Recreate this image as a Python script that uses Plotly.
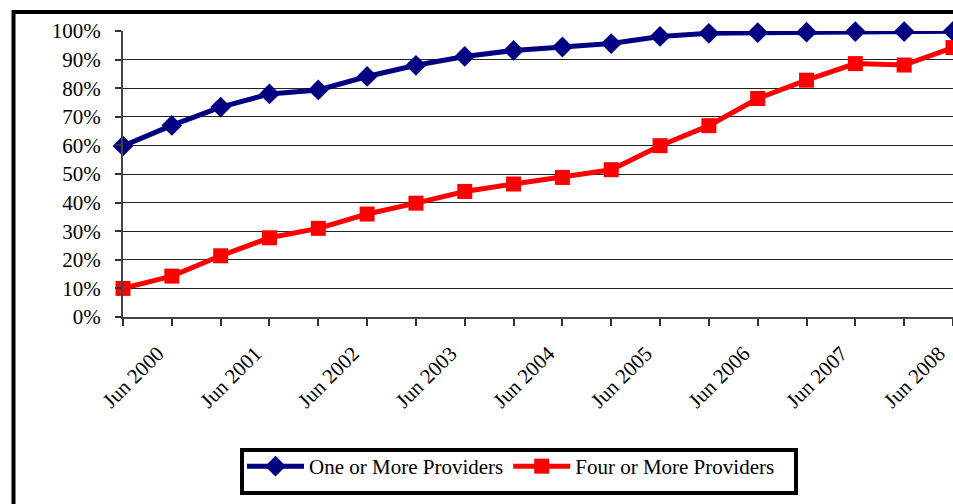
import plotly.graph_objects as go

# Survey periods (semi-annual) and share of ZIP codes served
periods = ["Dec 1999", "Jun 2000", "Dec 2000", "Jun 2001", "Dec 2001", "Jun 2002",
           "Dec 2002", "Jun 2003", "Dec 2003", "Jun 2004", "Dec 2004", "Jun 2005",
           "Dec 2005", "Jun 2006", "Dec 2006", "Jun 2007", "Dec 2007", "Jun 2008"]
one_or_more = [59.8, 67.0, 73.4, 78.0, 79.4, 84.1, 88.0, 91.1, 93.2, 94.4, 95.6, 98.1,
               99.2, 99.4, 99.6, 99.8, 99.8, 99.9]
four_or_more = [10.0, 14.3, 21.4, 27.7, 31.0, 36.0, 39.8, 43.9, 46.5, 48.8, 51.5, 59.9,
                66.9, 76.4, 82.8, 88.6, 88.1, 94.2]
y_ticks = list(range(0, 101, 10))

x_pos = list(range(len(periods)))
label_idx = [i for i, p in enumerate(periods) if p.startswith("Jun")]

W, H = 953, 504
ML, MR, MT, MB = 123, 0, 31, 187
FONT = "Liberation Serif, Times New Roman, serif"

fig = go.Figure()
fig.add_trace(go.Scatter(
    x=x_pos, y=one_or_more, name="One or More Providers", mode="lines+markers",
    line=dict(color="#000080", width=5),
    marker=dict(symbol="diamond", size=16, color="#000080"),
    cliponaxis=False,
))
fig.add_trace(go.Scatter(
    x=x_pos, y=four_or_more, name="Four or More Providers", mode="lines+markers",
    line=dict(color="#FF0000", width=5),
    marker=dict(symbol="square", size=15, color="#FF0000"),
    cliponaxis=False,
))

# Pixel -> paper coordinate helpers for the frame shapes
pw, ph = W - ML - MR, H - MT - MB
def px_x(px):
    return (px - ML) / pw
def px_y(py):
    return (H - MB - py) / ph

# Outer chart frame (runs past the page on the right and bottom)
fig.add_shape(type="rect", xref="paper", yref="paper",
              x0=px_x(13.5), x1=px_x(W + 40), y0=px_y(H + 40), y1=px_y(12),
              line=dict(color="black", width=4), fillcolor="rgba(0,0,0,0)", layer="below")
# Legend frame
fig.add_shape(type="rect", xref="paper", yref="paper",
              x0=px_x(242), x1=px_x(796), y0=px_y(493), y1=px_y(450),
              line=dict(color="black", width=4), fillcolor="white", layer="below")

fig.update_layout(
    width=W, height=H,
    margin=dict(l=ML, r=MR, t=MT, b=MB, pad=0),
    paper_bgcolor="white", plot_bgcolor="white",
    font=dict(family=FONT, size=21, color="black"),
    showlegend=True,
    legend=dict(
        orientation="h", xref="container", yref="container",
        x=242 / W, y=1 - 446 / H, xanchor="left", yanchor="top",
        borderwidth=0, bgcolor="rgba(0,0,0,0)",
        font=dict(family=FONT, size=21, color="black"),
        itemwidth=57, tracegroupgap=0,
    ),
    xaxis=dict(
        range=[0, len(periods) - 1],
        tickmode="array", tickvals=[x_pos[i] for i in label_idx],
        ticktext=[periods[i] for i in label_idx],
        tickangle=-45, ticks="outside", ticklen=7, tickwidth=1.5, tickcolor="#333",
        minor=dict(tickmode="array", tickvals=x_pos, ticks="outside", ticklen=7,
                   tickwidth=1.5, tickcolor="#333", showgrid=False),
        showline=True, linecolor="#444", linewidth=2,
        showgrid=False, zeroline=False,
        tickfont=dict(family=FONT, size=21, color="black"),
        ticklabelstandoff=7, ticklabelshift=-14, ticklabeloverflow="allow",
    ),
    yaxis=dict(
        range=[0, 100], tickmode="array", tickvals=y_ticks,
        ticktext=[f"{v}%" for v in y_ticks],
        ticks="outside", ticklen=6, tickwidth=1.5, tickcolor="#333",
        showline=True, linecolor="#444", linewidth=2,
        showgrid=True, gridcolor="#222", gridwidth=1, zeroline=False,
        tickfont=dict(family=FONT, size=21, color="black"),
        ticklabelstandoff=10,
    ),
)

fig.write_html("out.html")
